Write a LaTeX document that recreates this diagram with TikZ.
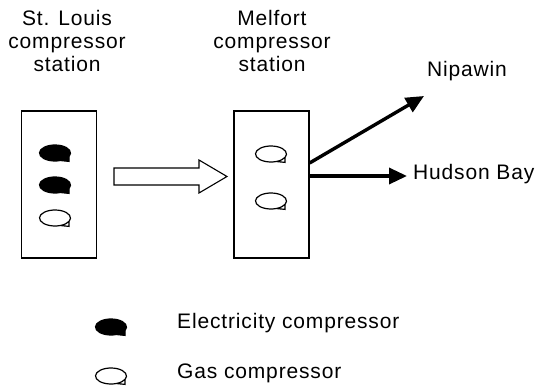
\documentclass[tikz,border=0pt]{standalone}
\usepackage{fontspec}
\setmainfont{Liberation Sans}[LetterSpace=4]
\usetikzlibrary{arrows.meta}

\begin{document}
\begin{tikzpicture}[
    x=1pt, y=1pt,
    font=\fontsize{21}{23}\selectfont,
    station/.style={draw, line width=1.2pt, rectangle, minimum width=75pt,
                    minimum height=147pt, inner sep=0pt},
    title/.style={align=center, inner sep=0pt},
    route/.style={line width=3.4pt, -{Triangle[length=18pt, width=16pt]}},
    compr/.pic={
      \draw[line width=1.2pt, pic actions]
        (-70:15.5pt and 8pt) arc[start angle=-70, end angle=335,
                                 x radius=15.5pt, y radius=8pt]
        -- ++(0pt,-5pt) -- cycle;
    }
  ]
    \useasboundingbox (0,0) rectangle (542,-386);

    %% --- Stations ---
    \node[title] (stltitle) at (67,-41) {St. Louis\\compressor\\station};
    \node[title] (meltitle) at (272,-41) {Melfort\\compressor\\station};
    \node[station] (stl) at (59.2,-184.5) {};
    \node[station] (mel) at (271.5,-184.5) {};

    \pic[fill=black] at (55,-153) {compr};
    \pic[fill=black] at (55,-185) {compr};
    \pic[fill=white] at (55,-218) {compr};
    \pic[fill=white] at (271,-154) {compr};
    \pic[fill=white] at (271,-201) {compr};

    %% --- Transfer arrow ---
    \draw[line width=1.1pt, fill=white]
      (114,-168) -- (199,-168) -- (199,-160) -- (227,-176.5)
      -- (199,-193) -- (199,-185) -- (114,-185) -- cycle;

    %% --- Routes ---
    \node[anchor=center] (nip) at (467,-71) {Nipawin};
    \node[anchor=west, inner sep=0pt] (hud) at (413,-174) {Hudson Bay};
    \coordinate (nipend) at (424,-96);
    \coordinate (hudend) at (407,-176);
    \draw[route] (mel.east |- 0,-163) -- (nipend);
    \draw[route] (mel.east |- 0,-176) -- (hudend);

    %% --- Legend ---
    \pic[fill=black] at (111,-327) {compr};
    \pic[fill=white] at (111,-376) {compr};
    \node[anchor=west, inner sep=0pt] (elec) at (177,-323) {Electricity compressor};
    \node[anchor=west, inner sep=0pt] (gas) at (177,-373) {Gas compressor};
  \end{tikzpicture}
\end{document}
